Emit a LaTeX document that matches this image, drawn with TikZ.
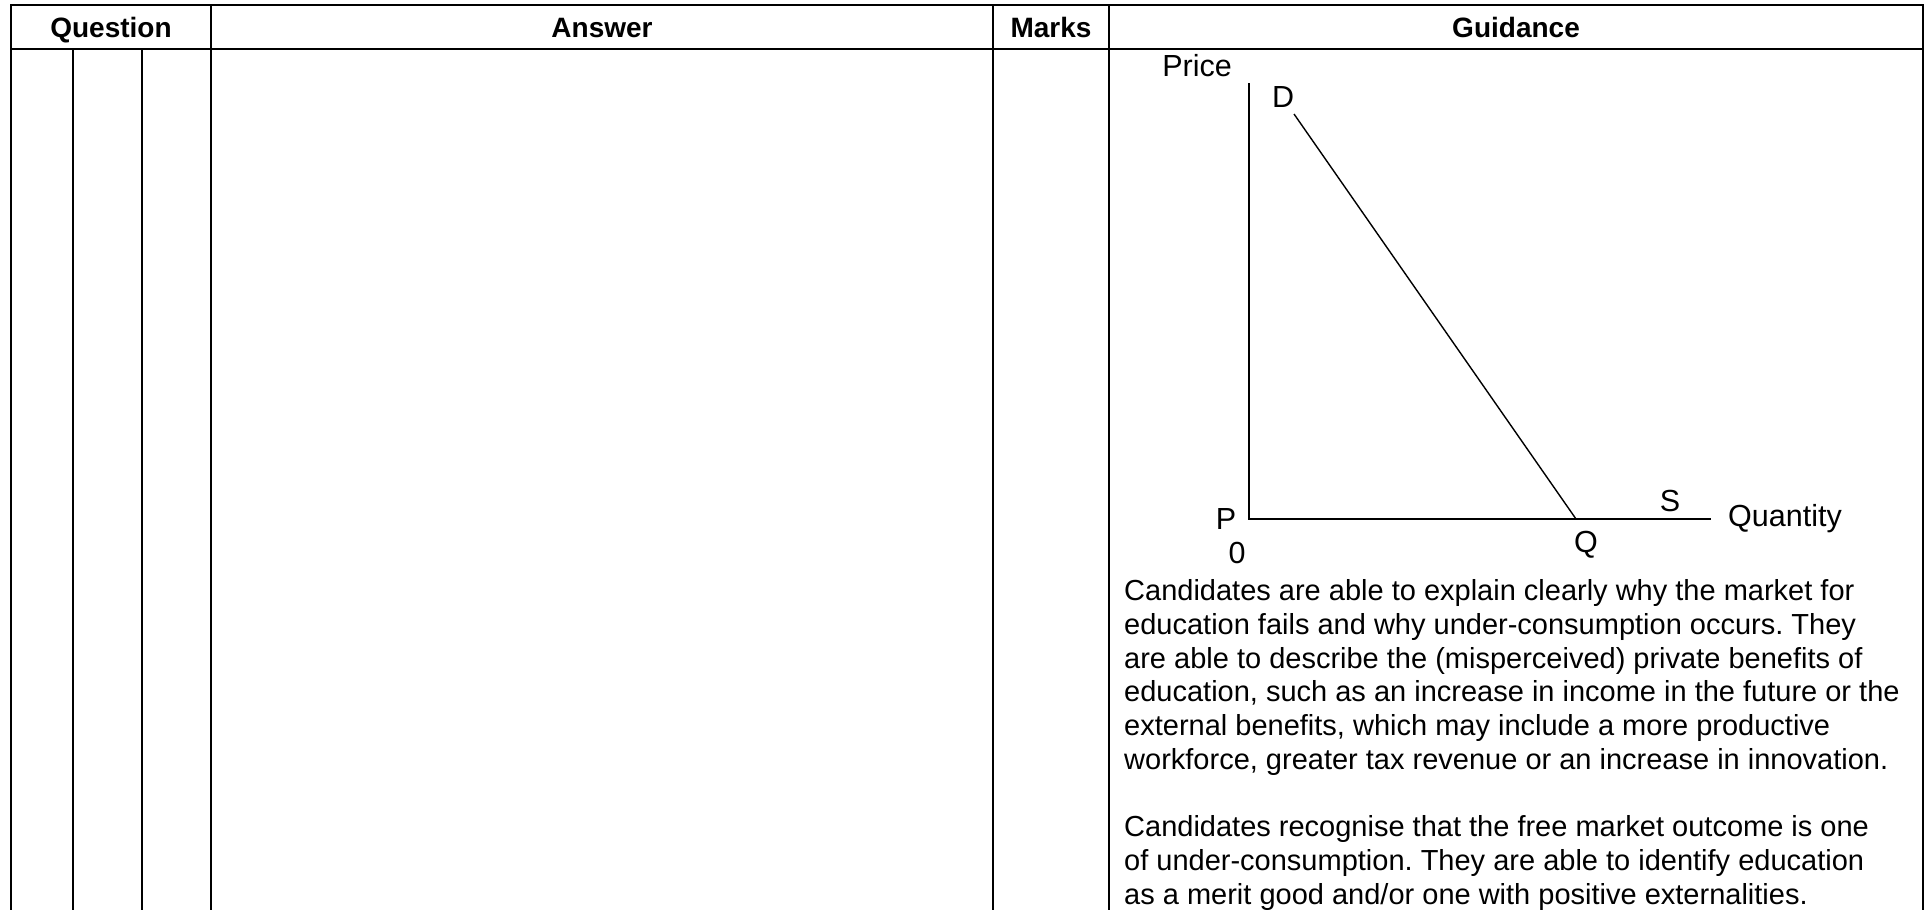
\documentclass[tikz,border=0pt]{standalone}
\usepackage{fontspec}
\setmainfont{Liberation Sans}
\begin{document}
\frenchspacing
\begin{tikzpicture}[x=1pt,y=-1pt,
  rule/.style={line width=2pt,line cap=rect},
  axis/.style={line width=1.4pt},
  head/.style={anchor=base,inner sep=0pt,font=\fontsize{28}{33}\selectfont\bfseries},
  glabel/.style={anchor=base,inner sep=0pt,font=\fontsize{30.5}{35}\selectfont},
  body/.style={anchor=base west,inner sep=0pt,font=\fontsize{29}{34}\selectfont}]
\useasboundingbox (0,0) rectangle (1930,910);
% table rules
\draw[rule] (11,910) -- (11,5) -- (1923,5) -- (1923,910);
\draw[rule] (11,49) -- (1923,49);
\draw[rule] (73,49) -- (73,910);
\draw[rule] (142,49) -- (142,910);
\draw[rule] (211,5) -- (211,910);
\draw[rule] (993,5) -- (993,910);
\draw[rule] (1109,5) -- (1109,910);
% headers
\node[head] (hq) at (111,37) {Question};
\node[head] (ha) at (602,37) {Answer};
\node[head] (hm) at (1051,37) {Marks};
\node[head] (hg) at (1516,37) {Guidance};
% graph
\coordinate (O) at (1249,519);
\coordinate (ytop) at (1249,83);
\coordinate (xend) at (1711,519);
\coordinate (dstart) at (1294,114);
\coordinate (qpt) at (1576,519);
\draw[axis] (ytop) -- (O) -- (xend);
\draw[axis] (dstart) -- (qpt);
\node[glabel] (price) at (1197,76) {Price};
\node[glabel] (lD) at (1283,107) {D};
\node[glabel] (lP) at (1226,529) {P};
\node[glabel] (l0) at (1237,563) {0};
\node[glabel] (lQ) at (1586,552) {Q};
\node[glabel] (lS) at (1670,511) {S};
\node[glabel,anchor=base west] (qty) at (1728,526) {Quantity};
% guidance text
\node[body] (t1) at (1124,600.7) {Candidates are able to explain clearly why the market for};
\node[body] (t2) at (1124,634.4) {education fails and why under-consumption occurs. They};
\node[body] (t3) at (1124,668.1) {are able to describe the (misperceived) private benefits of};
\node[body] (t4) at (1124,701.8) {education, such as an increase in income in the future or the};
\node[body] (t5) at (1124,735.5) {external benefits, which may include a more productive};
\node[body] (t6) at (1124,769.2) {workforce, greater tax revenue or an increase in innovation.};
\node[body] (t8) at (1124,836.6) {Candidates recognise that the free market outcome is one};
\node[body] (t9) at (1124,870.3) {of under-consumption. They are able to identify education};
\node[body] (t10) at (1124,904) {as a merit good and/or one with positive externalities.};
\end{tikzpicture}
\end{document}
